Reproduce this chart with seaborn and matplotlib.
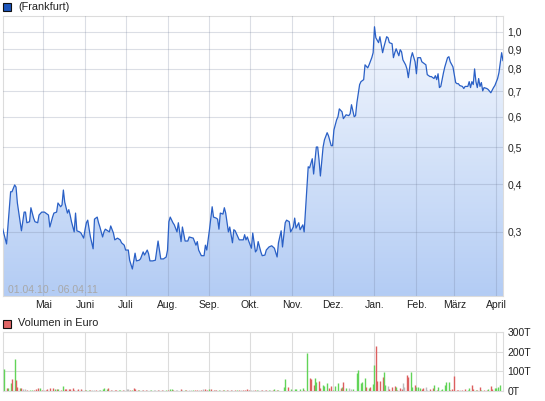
import numpy as np
import pandas as pd
import seaborn as sns
import matplotlib.pyplot as plt
from matplotlib.patches import Polygon, Rectangle
from matplotlib.colors import LinearSegmentedColormap
from matplotlib.ticker import NullLocator

# Kurs (Frankfurt), Tage seit 01.04.2010
price_day = [0, 3, 6, 7, 9, 10, 11, 12, 14, 16, 17, 18, 20, 21, 23, 24, 26, 27, 29, 31,
             32, 34, 35, 37, 38, 40, 41, 43, 44, 45, 46, 48, 49, 50, 51, 53, 54, 55, 57, 58,
             60, 61, 62, 63, 65, 67, 68, 70, 71, 72, 74, 75, 76, 79, 80, 82, 83, 85, 87, 88,
             90, 91, 93, 94, 96, 98, 99, 101, 102, 104, 105, 107, 108, 109, 111, 113, 115, 116, 117, 119,
             121, 122, 123, 124, 126, 127, 129, 130, 132, 133, 135, 137, 138, 141, 143, 144, 145, 147, 149, 150,
             151, 153, 155, 156, 158, 159, 160, 161, 163, 164, 165, 167, 168, 170, 171, 172, 174, 175, 178, 179,
             180, 181, 182, 184, 185, 187, 188, 189, 191, 192, 194, 195, 197, 199, 201, 203, 204, 206, 207, 209,
             210, 212, 213, 215, 216, 217, 219, 220, 222, 223, 226, 227, 229, 230, 232, 233, 234, 235, 237, 238,
             240, 241, 243, 244, 245, 247, 248, 249, 251, 252, 254, 256, 257, 258, 260, 261, 262, 264, 265, 267,
             268, 270, 271, 273, 274, 275, 276, 278, 279, 281, 282, 284, 285, 286, 288, 289, 290, 291, 293, 294,
             295, 296, 298, 299, 300, 302, 303, 305, 306, 307, 309, 310, 311, 313, 314, 316, 317, 319, 320, 321,
             322, 323, 324, 325, 326, 327, 329, 330, 331, 333, 334, 335, 336, 337, 338, 340, 341, 342, 344, 345,
             346, 347, 348, 349, 350, 351, 352, 353, 354, 355, 356, 358, 359, 361, 363, 364, 366, 367, 368, 369,
             370]
price = [0.307, 0.279, 0.382, 0.382, 0.398, 0.393, 0.357, 0.338, 0.302, 0.338, 0.338, 0.317, 0.319, 0.347, 0.326, 0.319, 0.317, 0.332, 0.338, 0.338,
         0.336, 0.332, 0.309, 0.328, 0.336, 0.338, 0.357, 0.349, 0.353, 0.386, 0.359, 0.336, 0.343, 0.332, 0.319, 0.300, 0.336, 0.302, 0.300, 0.298,
         0.289, 0.304, 0.317, 0.322, 0.291, 0.271, 0.324, 0.328, 0.317, 0.309, 0.291, 0.300, 0.305, 0.300, 0.311, 0.298, 0.286, 0.289, 0.286, 0.281,
         0.277, 0.269, 0.269, 0.253, 0.240, 0.264, 0.252, 0.253, 0.255, 0.266, 0.261, 0.269, 0.263, 0.252, 0.252, 0.253, 0.284, 0.269, 0.255, 0.255,
         0.258, 0.269, 0.319, 0.328, 0.317, 0.313, 0.300, 0.317, 0.283, 0.309, 0.284, 0.284, 0.291, 0.289, 0.277, 0.283, 0.269, 0.260, 0.260, 0.277,
         0.269, 0.304, 0.349, 0.328, 0.326, 0.324, 0.305, 0.336, 0.334, 0.347, 0.336, 0.300, 0.309, 0.281, 0.304, 0.302, 0.291, 0.286, 0.286, 0.295,
         0.286, 0.291, 0.284, 0.272, 0.298, 0.266, 0.269, 0.283, 0.266, 0.260, 0.261, 0.269, 0.274, 0.276, 0.272, 0.258, 0.281, 0.302, 0.274, 0.317,
         0.322, 0.319, 0.300, 0.309, 0.326, 0.307, 0.317, 0.304, 0.313, 0.300, 0.444, 0.441, 0.466, 0.425, 0.500, 0.500, 0.463, 0.420, 0.500, 0.522,
         0.545, 0.535, 0.504, 0.504, 0.554, 0.589, 0.600, 0.629, 0.618, 0.593, 0.607, 0.604, 0.611, 0.645, 0.600, 0.604, 0.653, 0.728, 0.741, 0.750,
         0.820, 0.805, 0.820, 0.856, 0.882, 1.031, 0.965, 0.937, 0.971, 0.882, 0.914, 0.971, 0.965, 0.937, 0.931, 0.856, 0.882, 0.903, 0.866, 0.898,
         0.887, 0.845, 0.820, 0.800, 0.759, 0.856, 0.882, 0.835, 0.777, 0.856, 0.856, 0.835, 0.830, 0.820, 0.773, 0.764, 0.764, 0.755, 0.768, 0.750,
         0.777, 0.715, 0.720, 0.750, 0.782, 0.810, 0.856, 0.861, 0.835, 0.810, 0.773, 0.737, 0.732, 0.732, 0.724, 0.720, 0.711, 0.720, 0.720, 0.741,
         0.715, 0.741, 0.728, 0.800, 0.741, 0.715, 0.755, 0.720, 0.737, 0.701, 0.715, 0.711, 0.707, 0.693, 0.715, 0.724, 0.755, 0.782, 0.830, 0.882,
         0.840]

# Volumen in Tausend Euro, Farbe: g = steigend, r = fallend, n = unverändert
vol_day = [1, 3, 4, 6, 7, 9, 10, 11, 13, 14, 15, 17, 18, 20, 22, 23, 25, 26, 28, 29,
           31, 32, 33, 35, 37, 39, 40, 41, 43, 45, 46, 47, 49, 50, 52, 53, 55, 56, 58, 59,
           61, 62, 64, 65, 66, 68, 69, 71, 72, 74, 75, 77, 78, 80, 81, 83, 84, 86, 87, 89,
           90, 92, 93, 94, 96, 97, 98, 100, 101, 103, 104, 106, 107, 109, 110, 112, 113, 115, 116, 118,
           119, 121, 122, 124, 125, 126, 128, 129, 132, 133, 135, 136, 138, 139, 141, 142, 144, 145, 147, 148,
           150, 151, 153, 154, 156, 157, 158, 160, 161, 163, 164, 166, 167, 169, 170, 172, 173, 175, 176, 178,
           179, 181, 182, 184, 185, 187, 188, 189, 191, 192, 194, 195, 197, 198, 200, 201, 203, 204, 208, 209,
           211, 213, 214, 216, 217, 220, 222, 223, 225, 227, 228, 230, 231, 232, 234, 235, 237, 238, 240, 241,
           243, 244, 246, 248, 250, 251, 252, 254, 256, 258, 259, 262, 263, 265, 266, 268, 269, 271, 272, 274,
           275, 276, 277, 279, 281, 282, 283, 285, 286, 288, 290, 291, 292, 294, 295, 296, 297, 299, 300, 302,
           303, 305, 306, 307, 309, 310, 311, 313, 314, 316, 318, 319, 321, 322, 324, 325, 327, 328, 330, 331,
           332, 334, 336, 337, 338, 340, 342, 344, 345, 347, 348, 350, 351, 353, 354, 356, 358, 359, 361, 362,
           364, 365, 366, 368]
vol_t = [110, 14, 17, 42, 59, 161, 56, 19, 14, 15, 10, 8, 5, 5, 5, 5, 8, 14, 14, 5,
         5, 5, 8, 14, 14, 12, 12, 8, 5, 25, 8, 8, 12, 12, 15, 5, 5, 12, 12, 5,
         5, 5, 5, 5, 5, 5, 5, 5, 5, 8, 15, 12, 15, 5, 5, 5, 5, 5, 5, 5,
         5, 8, 8, 5, 5, 14, 8, 5, 5, 5, 5, 5, 5, 5, 5, 5, 5, 5, 5, 5,
         5, 5, 5, 8, 8, 5, 5, 5, 8, 5, 5, 5, 5, 5, 5, 5, 5, 5, 5, 12,
         12, 5, 12, 8, 5, 5, 5, 5, 5, 5, 5, 5, 5, 5, 5, 5, 5, 5, 5, 5,
         5, 8, 5, 5, 5, 5, 5, 5, 5, 5, 5, 5, 5, 5, 5, 8, 5, 5, 19, 59,
         19, 8, 5, 8, 8, 10, 14, 5, 195, 64, 59, 31, 64, 47, 53, 14, 31, 25, 42, 14,
         25, 5, 25, 39, 14, 19, 47, 14, 14, 8, 8, 90, 107, 42, 47, 64, 19, 14, 22, 36,
         132, 229, 51, 51, 70, 98, 31, 25, 8, 19, 25, 22, 5, 14, 8, 39, 19, 81, 73, 98,
         22, 31, 19, 22, 14, 8, 14, 19, 5, 8, 14, 31, 5, 22, 5, 8, 31, 47, 47, 5,
         8, 76, 5, 5, 5, 5, 8, 5, 14, 31, 10, 5, 5, 19, 5, 5, 5, 8, 25, 8,
         14, 14, 19, 31]
vol_col = list("grggrgrrgrnnrggrrrgr"
               "nrrrrgrgrgrrrrrrnrrn"
               "rggrnnrnggggrrnrrggr"
               "nnnrgrrrgnrrnngnnrnr"
               "ngrggrnnrngrnngrrnrn"
               "rrgrrnrgnrgrnrnrgrnr"
               "rrrnnrgnnrnrgnrgrggg"
               "rgnggggrgrrrggrrgggr"
               "rgggrgrgnnggggggrgrg"
               "grrrrggnrrrgrrrnnrrg"
               "grgggrrnnrrgrggggggr"
               "rrrrnrrggrrgrrgrrgrr"
               "gggg")

month_names = ['Mai', 'Juni', 'Juli', 'Aug.', 'Sep.', 'Okt.', 'Nov.', 'Dez.',
               'Jan.', 'Feb.', 'März', 'April']
price_ticks = [0.3, 0.4, 0.5, 0.6, 0.7, 0.8, 0.9, 1.0]
vol_ticks = [0, 100, 200, 300]

start = pd.Timestamp('2010-04-01')
month_days = [(d - start).days for d in pd.date_range('2010-05-01', '2011-04-01', freq='MS')]

sns.set_style('white')
plt.rcParams['font.family'] = ['Liberation Sans', 'DejaVu Sans']

W, H = 545, 401
fig = plt.figure(figsize=(W / 100, H / 100), dpi=100)
ax1 = fig.add_axes([2.5 / W, 1 - 296 / H, 500.5 / W, 280 / H])
ax2 = fig.add_axes([2.5 / W, 1 - 391 / H, 500.5 / W, 59 / H])

grid_c = '#dcdcdc'
text_c = '#222222'
ymin, ymax = 0.204, 1.1

# ---- Kurs ----
ax1.set_yscale('log')
ax1.set_xlim(0, 370)
ax1.set_ylim(ymin, ymax)
ax1.set_autoscale_on(False)

grad = np.linspace(0, 1, 256).reshape(-1, 1)
cmap = LinearSegmentedColormap.from_list('fill', ['#b3ccf4', '#f6f9fe'])
im = ax1.imshow(grad, extent=[0, 1, 0, 1], transform=ax1.transAxes, origin='lower',
                aspect='auto', cmap=cmap, zorder=1)
verts = [(price_day[0], ymin)] + list(zip(price_day, price)) + [(price_day[-1], ymin)]
clip = Polygon(verts, closed=True, transform=ax1.transData, facecolor='none', edgecolor='none')
ax1.add_patch(clip)
im.set_clip_path(clip)

df = pd.DataFrame({'day': price_day, 'price': price})
sns.lineplot(data=df, x='day', y='price', ax=ax1, color='#2a60c6', lw=0.9, zorder=3)

ax1.set_axisbelow(False)
ax1.set_yticks(price_ticks, [f'{v:.1f}'.replace('.', ',') for v in price_ticks])
ax1.yaxis.set_minor_locator(NullLocator())
ax1.yaxis.tick_right()
ax1.set_xticks(month_days, month_names)
ax1.grid(True, color='#6b7894', alpha=0.24, lw=0.8)
ax1.tick_params(axis='both', length=0, labelsize=7.5, colors=text_c)
ax1.tick_params(axis='y', pad=3)
ax1.tick_params(axis='x', pad=3)
ax1.set_xlabel('')
ax1.set_ylabel('')
for s in ax1.spines.values():
    s.set_color(grid_c)
    s.set_linewidth(0.8)
ax1.text(0.011, 0.022, '01.04.10 - 06.04.11', transform=ax1.transAxes, fontsize=7.6,
         color='#a8a8a8', va='center', ha='left', zorder=4)

# ---- Volumen ----
colors = {'g': '#62d458', 'r': '#dc5f5f', 'n': '#bcbcbc'}
ax2.set_xlim(0, 370)
ax2.set_ylim(0, 300)
ax2.vlines(vol_day, 0, vol_t, colors=[colors[c] for c in vol_col], lw=1.0, zorder=3)
ax2.set_yticks(vol_ticks, [f'{v}T' for v in vol_ticks])
ax2.yaxis.tick_right()
ax2.set_xticks(month_days, [])
ax2.grid(True, color=grid_c, lw=0.8, zorder=0)
ax2.set_axisbelow(True)
ax2.tick_params(axis='both', length=0, labelsize=7.5, colors=text_c)
ax2.tick_params(axis='y', pad=3)
for s in ax2.spines.values():
    s.set_color(grid_c)
    s.set_linewidth(0.8)

# ---- Legenden ----
fig.patches.append(Rectangle((3 / W, 1 - 11 / H), 8 / W, 8 / H, transform=fig.transFigure,
                             facecolor='#1d56bd', edgecolor='#111111', lw=0.8))
fig.text(18 / W, 1 - 7 / H, '(Frankfurt)', fontsize=7.8, color=text_c, va='center')
fig.patches.append(Rectangle((3 / W, 1 - 328 / H), 8 / W, 8 / H, transform=fig.transFigure,
                             facecolor='#e06666', edgecolor='#111111', lw=0.8))
fig.text(18 / W, 1 - 323.5 / H, 'Volumen in Euro', fontsize=7.8, color=text_c, va='center')

fig.savefig('out.png', dpi=100)
